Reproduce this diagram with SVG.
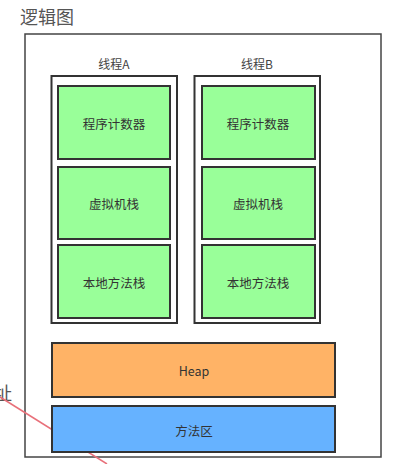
<svg xmlns="http://www.w3.org/2000/svg" width="412" height="464" viewBox="0 0 412 464">
  <style>
    text { font-family: "Noto Sans CJK SC", "Liberation Sans", sans-serif; fill: #333; }
    .title { font-size: 18px; fill: #555; }
    .lbl { font-size: 12px; fill: #444; text-anchor: middle; }
    .t { font-size: 12.5px; text-anchor: middle; dominant-baseline: central; }
    .frame { fill: #fff; stroke: #444; stroke-width: 1.5; }
    .thread { fill: #fff; stroke: #333; stroke-width: 2; }
    .green { fill: #99ff99; stroke: #333; stroke-width: 2; }
    .heap { fill: #ffb366; stroke: #333; stroke-width: 2; }
    .method { fill: #66b2ff; stroke: #333; stroke-width: 2; }
  </style>

  <text class="title" x="20" y="24">逻辑图</text>
  <text class="title" x="-6" y="400">址</text>

  <g id="frame">
    <rect class="frame" x="25" y="34" width="356" height="423"/>
  </g>

  <!-- pointer line, passes behind the method area -->
  <g id="connectors">
    <line x1="0" y1="397" x2="107" y2="464" stroke="#e8707a" stroke-width="1.5"/>
  </g>

  <g id="threadA">
    <text class="lbl" x="114" y="69">线程A</text>
    <rect class="thread" x="51.5" y="76" width="125.5" height="247"/>
    <g id="pcA"><rect class="green" x="58" y="86" width="112" height="73"/><text class="t" x="114" y="123">程序计数器</text></g>
    <g id="vmA"><rect class="green" x="58" y="167" width="112" height="72"/><text class="t" x="114" y="203">虚拟机栈</text></g>
    <g id="nativeA"><rect class="green" x="58" y="245" width="112" height="73"/><text class="t" x="114" y="282">本地方法栈</text></g>
  </g>

  <g id="threadB">
    <text class="lbl" x="257" y="69">线程B</text>
    <rect class="thread" x="194.5" y="76" width="125.5" height="247"/>
    <g id="pcB"><rect class="green" x="202" y="86" width="113" height="73"/><text class="t" x="258" y="123">程序计数器</text></g>
    <g id="vmB"><rect class="green" x="202" y="167" width="113" height="72"/><text class="t" x="258" y="203">虚拟机栈</text></g>
    <g id="nativeB"><rect class="green" x="202" y="245" width="113" height="73"/><text class="t" x="258" y="282">本地方法栈</text></g>
  </g>

  <g id="heap">
    <rect class="heap" x="52" y="343" width="283" height="54"/>
    <text class="t" x="194" y="370">Heap</text>
  </g>

  <g id="methodArea">
    <rect class="method" x="52" y="406" width="283" height="46"/>
    <text class="t" x="194" y="430">方法区</text>
  </g>
</svg>
